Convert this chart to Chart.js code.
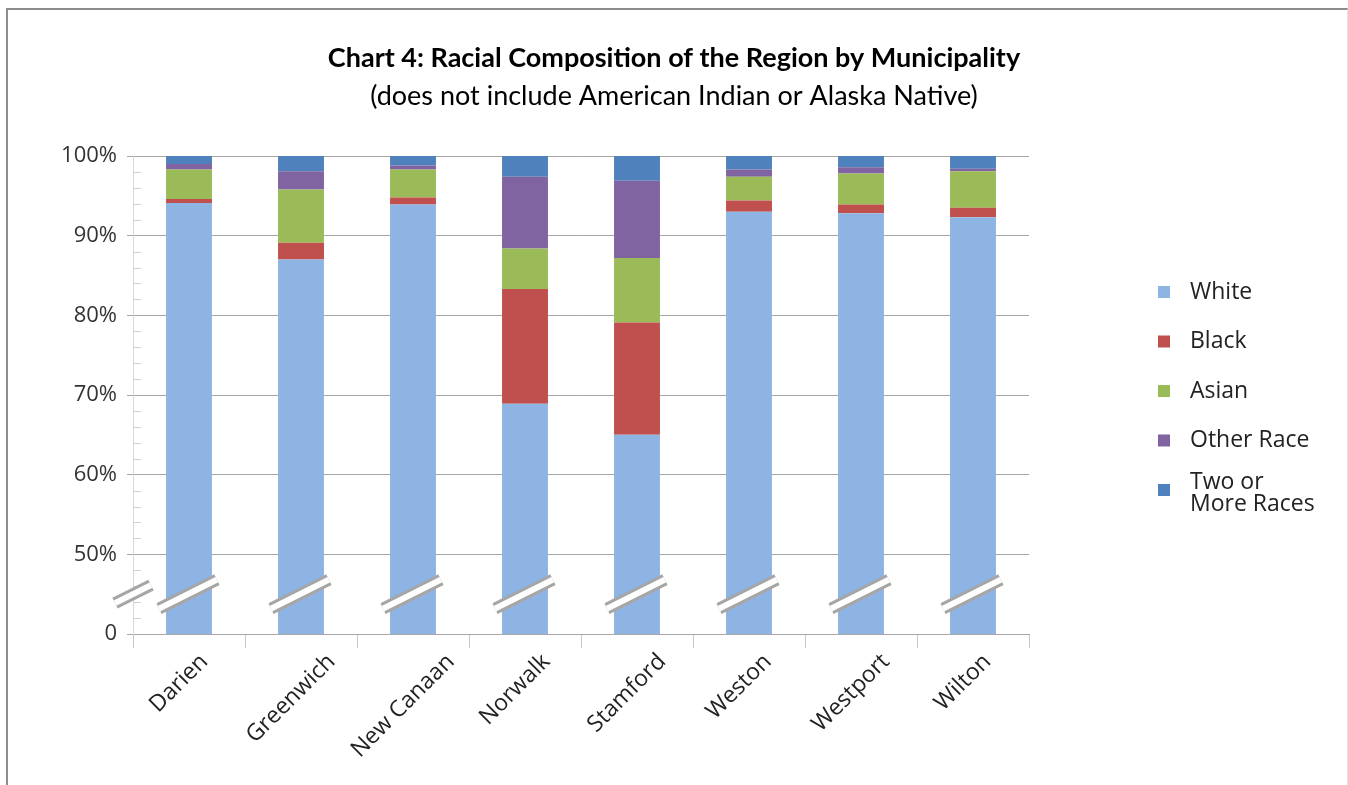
<!DOCTYPE html>
<html>
<head>
<meta charset="utf-8">
<script src="https://cdn.jsdelivr.net/npm/chart.js@4/dist/chart.umd.min.js"></script>
<style>
	html, body { margin: 0; padding: 0; background: #fff; overflow: hidden; }
	#wrap { position: relative; width: 1348px; height: 785px; }
	#frame { position: absolute; left: 6px; top: 8px; width: 1339px; height: 800px;
		border-left: 2px solid #8c8c8c; border-top: 2px solid #8c8c8c; border-right: 1px solid #e2e2e2; }
	canvas { position: absolute; left: 0; top: 0; }
</style>
</head>
<body>
<div id="wrap">
	<div id="frame"></div>
	<canvas id="bar-chartcanvas" width="1348" height="785"></canvas>
</div>
<script>
// data (percent of population)
var towns = ["Darien", "Greenwich", "New Canaan", "Norwalk", "Stamford", "Weston", "Westport", "Wilton"];
var white   = [94.1, 87.0, 93.9, 68.9, 65.0, 93.0, 92.8, 92.3];
var black   = [0.5, 2.1, 0.9, 14.4, 14.1, 1.4, 1.1, 1.2];
var asian   = [3.7, 6.7, 3.5, 5.1, 8.1, 3.0, 3.9, 4.6];
var other   = [0.7, 2.3, 0.5, 9.0, 9.7, 0.9, 0.8, 0.3];
var twoPlus = [1.0, 1.9, 1.2, 2.6, 3.1, 1.7, 1.4, 1.6];

var seriesNames = ["White", "Black", "Asian", "Other Race", "Two or\nMore Races"];
var seriesColors = ["#8eb4e3", "#c0504d", "#9bbb59", "#8064a2", "#4f81bd"];

// broken axis: the bottom of the plot (40) stands for 0
var axisBase = 40;
var yTicks = [40, 50, 60, 70, 80, 90, 100];
var breakAt = 45;

var titleText = "Chart 4: Racial Composition of the Region by Municipality";
var subtitleText = "(does not include American Indian or Alaska Native)";

var mainFont = "'Open Sans', sans-serif";

// titles drawn across the full canvas width
var titlePlugin = {
	id: "titles",
	afterDraw: function(chart) {
		var c = chart.ctx;
		c.save();
		c.fillStyle = "#000";
		c.textAlign = "center";
		c.textBaseline = "alphabetic";
		c.font = "bold 27px Lato, sans-serif";
		c.fillText(titleText, chart.width / 2, 67);
		c.font = "27px Lato, sans-serif";
		c.fillText(subtitleText, chart.width / 2, 105);
		c.restore();
	}
};

// category labels, rotated and centred under each tick (Excel style)
var xLabelPlugin = {
	id: "xLabels",
	afterDraw: function(chart) {
		var c = chart.ctx;
		var xs = chart.scales.x;
		var base = chart.chartArea.bottom;
		c.save();
		c.font = "23px " + mainFont;
		c.fillStyle = "#222";
		c.textAlign = "center";
		c.textBaseline = "middle";
		towns.forEach(function(name, i) {
			var w = c.measureText(name).width;
			c.save();
			c.translate(xs.getPixelForTick(i) - 10, base + 24 + w * 0.354);
			c.rotate(-Math.PI / 4);
			c.fillText(name, 0, 0);
			c.restore();
		});
		c.restore();
	}
};

// minor ticks on the value axis and the break marks
var breakPlugin = {
	id: "breaks",
	afterDatasetsDraw: function(chart) {
		var c = chart.ctx;
		var y = chart.scales.y;
		var left = chart.chartArea.left;
		c.save();
		c.strokeStyle = "#d0d0d0";
		c.lineWidth = 1;
		for (var v = axisBase + 2; v < 100; v += 2) {
			if (v % 10 == 0) continue;
			var py = Math.round(y.getPixelForValue(v)) + 0.5;
			c.beginPath();
			c.moveTo(left, py);
			c.lineTo(left + 8, py);
			c.stroke();
		}

		var by = y.getPixelForValue(breakAt);
		var marks = [{x: left, h: 18}];
		var meta = chart.getDatasetMeta(0);
		meta.data.forEach(function(bar) {
			marks.push({x: bar.x - 1, h: bar.width / 2 + 6});
		});
		c.lineCap = "butt";
		marks.forEach(function(m) {
			c.beginPath();
			c.moveTo(m.x - m.h, by + m.h * 0.5);
			c.lineTo(m.x + m.h, by - m.h * 0.5);
			c.strokeStyle = "#a6a6a6";
			c.lineWidth = 12;
			c.stroke();
			c.strokeStyle = "#fff";
			c.lineWidth = 6;
			c.stroke();
		});
		c.restore();
	}
};

// legend on the right, with a two-line last entry
var legendPlugin = {
	id: "sideLegend",
	afterDraw: function(chart) {
		var c = chart.ctx;
		var x0 = 1158, y0 = 292, gap = 49.5;
		c.save();
		c.font = "23px " + mainFont;
		c.textBaseline = "middle";
		c.textAlign = "left";
		seriesNames.forEach(function(name, i) {
			var lines = name.split("\n");
			var cy = y0 + i * gap;
			c.fillStyle = seriesColors[i];
			c.fillRect(x0, cy - 6, 12, 12);
			c.fillStyle = "#222";
			var lh = 22;
			var start = cy - (lines.length - 1) * lh / 2 + (lines.length - 1) * 3;
			lines.forEach(function(l, j) {
				c.fillText(l, x0 + 32, start + j * lh);
			});
		});
		c.restore();
	}
};

var parts = [white, black, asian, other, twoPlus];
var datasets = parts.map(function(vals, i) {
	return {
		label: seriesNames[i].replace("\n", " "),
		data: vals,
		backgroundColor: seriesColors[i],
		borderWidth: 0,
		categoryPercentage: 1.0,
		barPercentage: 0.41
	};
});

var ctx = document.getElementById("bar-chartcanvas");

var chart = new Chart(ctx, {
	type: "bar",
	data: {
		labels: towns,
		datasets: datasets
	},
	options: {
		responsive: false,
		animation: false,
		layout: {
			padding: { left: 0, right: 319, top: 156, bottom: 0 }
		},
		plugins: {
			legend: { display: false },
			title: { display: false },
			tooltip: { enabled: false }
		},
		scales: {
			x: {
				stacked: true,
				grid: {
					drawOnChartArea: false,
					color: "#c8c8c8",
					tickLength: 14,
					offset: true
				},
				border: { color: "#a6a6a6" },
				ticks: { display: false },
				afterFit: function(scale) { scale.height = 151; }
			},
			y: {
				stacked: true,
				min: axisBase,
				max: 100,
				afterBuildTicks: function(scale) {
					scale.ticks = yTicks.map(function(v) { return {value: v}; });
				},
				ticks: {
					padding: 10,
					color: "#333",
					font: { family: mainFont, size: 22 },
					callback: function(v) { return v == axisBase ? "0" : v + "%"; }
				},
				grid: {
					color: "#a6a6a6",
					tickLength: 6
				},
				border: { color: "#d9d9d9" },
				afterFit: function(scale) { scale.width = 133; }
			}
		}
	},
	plugins: [titlePlugin, breakPlugin, xLabelPlugin, legendPlugin]
});
</script>
</body>
</html>
